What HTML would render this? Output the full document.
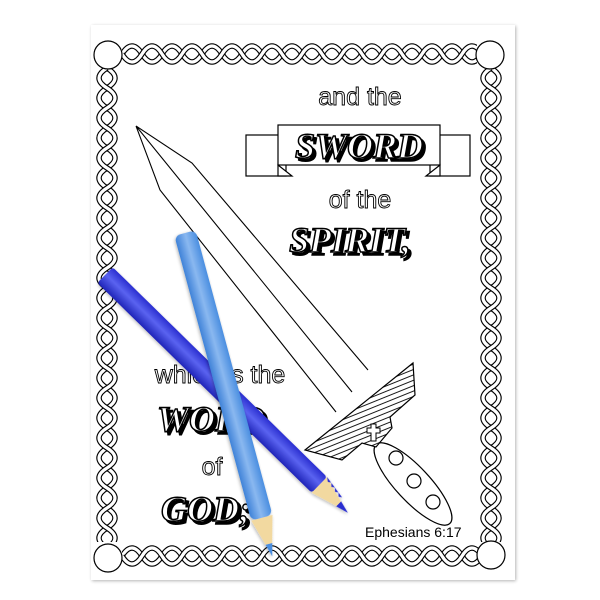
<!DOCTYPE html>
<html><head><style>
html,body{margin:0;padding:0;background:#fff;width:600px;height:600px;overflow:hidden}
svg.root{display:block}
</style></head><body>
<svg class="root" width="600" height="600" viewBox="0 0 600 600" xmlns="http://www.w3.org/2000/svg">
<defs>
<filter id="sh" x="-10%" y="-10%" width="130%" height="130%"><feGaussianBlur in="SourceAlpha" stdDeviation="1.5"/><feOffset dx="1" dy="1"/><feComponentTransfer><feFuncA type="linear" slope="0.3"/></feComponentTransfer><feMerge><feMergeNode/><feMergeNode in="SourceGraphic"/></feMerge></filter>
<linearGradient id="db" x1="0" y1="0" x2="0" y2="1"><stop offset="0" stop-color="#2a2fd0"/><stop offset="0.45" stop-color="#5a63f0"/><stop offset="1" stop-color="#1f24b8"/></linearGradient>
<linearGradient id="lb" x1="0" y1="0" x2="0" y2="1"><stop offset="0" stop-color="#4a8ee0"/><stop offset="0.5" stop-color="#8ab8f0"/><stop offset="1" stop-color="#3f82d8"/></linearGradient>
<pattern id="hatch" width="5" height="5" patternUnits="userSpaceOnUse" patternTransform="rotate(-22)"><rect width="5" height="5" fill="#fff"/><line x1="0" y1="2.5" x2="5" y2="2.5" stroke="#000" stroke-width="0.9"/></pattern>
<path id="ropeH" d="M0,0 q10,-16 20,0 t20,0 t20,0 t20,0 t20,0 t20,0 t20,0 t20,0 t20,0 t20,0 t20,0 t20,0 t20,0 t20,0 t20,0 t20,0 t20,0 t20,0 t20,0 t20,0 t20,0 t20,0 t20,0 t20,0 t20,0" fill="none"/>
<g id="rope">
  <use href="#ropeH" stroke="#000" stroke-width="5.5"/><use href="#ropeH" stroke="#fff" stroke-width="3.2"/>
  <g transform="scale(1,-1)"><use href="#ropeH" stroke="#000" stroke-width="5.5"/><use href="#ropeH" stroke="#fff" stroke-width="3.2"/></g>
</g>
</defs>
<rect x="91" y="25" width="424" height="555" fill="#fff" filter="url(#sh)"/>
<g fill="none">
 <svg x="122" y="41" width="355" height="26" overflow="hidden"><g transform="translate(0,13)"><use href="#rope"/></g></svg>
 <svg x="122" y="543" width="358" height="26" overflow="hidden"><g transform="translate(0,13)"><use href="#rope"/></g></svg>
 <g transform="translate(107,68) rotate(90)"><svg x="0" y="-13" width="474" height="26" overflow="hidden"><g transform="translate(0,13)"><use href="#rope"/></g></svg></g>
 <g transform="translate(491,68) rotate(90)"><svg x="0" y="-13" width="474" height="26" overflow="hidden"><g transform="translate(0,13)"><use href="#rope"/></g></svg></g>
</g>
<g fill="#fff" stroke="#000" stroke-width="1.2">
 <circle cx="108" cy="55" r="14"/><circle cx="490" cy="55" r="14"/>
 <circle cx="108" cy="558" r="14"/><circle cx="491" cy="555" r="14"/>
</g>
<g fill="none" stroke="#000" stroke-width="1.1">
 <path d="M136,126 L192,163 L368,370 M136,126 L160,190 L336,412 M136,126 L352,392" />
</g>
<ellipse cx="413" cy="484" rx="54" ry="17" transform="rotate(47 413 484)" fill="#fff" stroke="#000" stroke-width="1.2"/>
<g fill="#fff" stroke="#000" stroke-width="1.2"><circle cx="396" cy="458" r="7"/><circle cx="414" cy="481" r="7"/><circle cx="433" cy="502" r="7"/></g>
<path d="M305,450 L413,363 L415,395 L390,417 L392,428 L376,447 L362,443 L342,460 Z" fill="url(#hatch)" stroke="#000" stroke-width="1.2"/>
<path d="M371,424 h5 v4 h4 v5 h-4 v8 h-5 v-8 h-4 v-5 h4z" fill="#fff" stroke="#000" stroke-width="1"/>
<g fill="#fff" stroke="#000" stroke-width="1.2">
 <rect x="246" y="135" width="40" height="41"/>
 <rect x="430" y="135" width="40" height="41" />
 <path d="M278,165 L292,176 L278,176Z"/>
 <path d="M440,165 L426,176 L440,176Z"/>
 <rect x="278" y="125" width="162" height="40"/>
</g>
<g font-family="'Liberation Sans',sans-serif" text-anchor="middle">
 <g font-size="25" fill="#fff" stroke="#000" stroke-width="0.9">
  <text x="360" y="105">and the</text>
  <text x="360" y="208">of the</text>
  <text x="220" y="383">which is the</text>
  <text x="212" y="475">of</text>
 </g>
</g>
<g font-family="'Liberation Serif',serif" text-anchor="middle" font-size="36" font-weight="bold" font-style="italic">
  <text x="362" y="161" fill="#000" stroke="#000" stroke-width="1.5">SWORD</text><text x="359" y="158" fill="#fff" stroke="#000" stroke-width="1.5">SWORD</text>
  <text x="353" y="255" fill="#000" stroke="#000" stroke-width="1.5">SPIRIT,</text><text x="350" y="252" fill="#fff" stroke="#000" stroke-width="1.5">SPIRIT,</text>
  <text x="214" y="434" fill="#000" stroke="#000" stroke-width="1.5">WORD</text><text x="211" y="431" fill="#fff" stroke="#000" stroke-width="1.5">WORD</text>
  <text x="209" y="524" fill="#000" stroke="#000" stroke-width="1.5">GOD;</text><text x="206" y="521" fill="#fff" stroke="#000" stroke-width="1.5">GOD;</text>
</g>
<text x="365" y="537" font-family="'Liberation Sans',sans-serif" font-size="14" fill="#000">Ephesians 6:17</text>
<g transform="translate(105,275) rotate(44.4)" filter="url(#sh)">
 <rect x="0" y="-11" width="300" height="22" rx="3" fill="url(#db)"/>
 <path d="M300,-11 L338,0 L300,11 Z" fill="#f2d9a0"/>
 <path d="M300,-11 l4,3 l3,-2 l3,3 l3,-2 l3,3 l3,-2 l3,3 l3,-2 L300,-11Z" fill="#2a2fd0"/>
 <path d="M327,-3.5 L340,0 L327,3.5Z" fill="#2a2fd0"/>
</g>
<g transform="translate(185,233) rotate(74.9)" filter="url(#sh)">
 <rect x="0" y="-11" width="295" height="22" rx="6" fill="url(#lb)"/>
 <path d="M295,-11 L334,0 L295,11 Z" fill="#f2d9a0"/>
 <path d="M322,-3.5 L335,0 L322,3.5Z" fill="#4a8ee0"/>
</g>
</svg>
</body></html>
